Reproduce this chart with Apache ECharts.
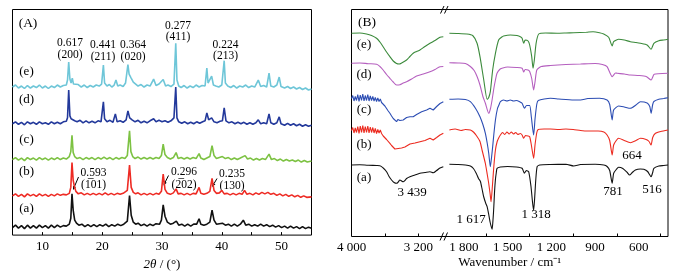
<!DOCTYPE html>
<html>
<head>
<meta charset="utf-8">
<script src="https://cdn.jsdelivr.net/npm/echarts@6/dist/echarts.min.js"></script>
<style>
  html, body { margin: 0; padding: 0; background: #fff; }
  #chart { width: 687px; height: 276px; }
</style>
</head>
<body>
<div id="chart"></div>
<script>
// (A) XRD patterns: [2theta, intensity as stacked in the figure]
const xrdE = [[5,149],[5.5,151],[6,148],[6.5,150],[7,147.5],[7.5,150.5],[8,148],[8.5,150],[9,148.5],[9.5,151],[10,148],[10.5,150],[11,147.5],[11.5,150],[12,148.5],[12.5,151],[13,149],[13.5,150.5],[14,151],[14.2,156],[14.4,174],[14.6,157],[14.8,153],[15,158],[15.2,152],[15.5,150],[16,151.5],[16.5,149],[17,151],[17.5,148.5],[18,150.5],[18.5,149],[19,151],[19.5,150],[19.9,152],[20.2,171],[20.4,153],[20.8,150],[21.2,151.5],[21.6,149],[22,151],[22.3,156],[22.6,150],[23,151],[23.5,149.5],[23.9,153],[24.3,171.5],[24.5,162],[24.8,158.5],[25.2,154],[25.6,152],[26,150],[26.5,151.5],[27,149],[27.5,151],[28,150],[28.6,157],[29,150.5],[29.5,152],[30.2,156.5],[30.6,150],[31,151],[31.5,149.5],[32,152],[32.3,193],[32.5,156],[32.8,150],[33.2,148.5],[33.7,150.5],[34.2,148],[34.7,150],[35.2,148.5],[35.7,151],[36.2,149],[36.7,150.5],[37.2,150],[37.5,168],[37.7,153],[38,152],[38.3,160],[38.6,151],[39,150],[39.5,149],[40,151],[40.4,175.5],[40.6,153],[41,150],[41.5,148.5],[42,150.5],[42.5,148],[43,150],[43.5,149],[44,151],[44.5,148.5],[45,150],[45.5,149],[46.1,156],[46.5,149.5],[47,150.5],[47.5,149],[47.9,163],[48.2,150],[48.7,149],[49.2,151],[49.6,159],[49.9,149.5],[50.5,148],[51,149.5],[51.5,147.5],[52,149],[52.5,147],[53,148.5],[53.5,146.5],[54,148],[54.5,146],[55,147]]
const xrdD = [[5,112],[5.5,114],[6,111.5],[6.5,113.5],[7,111],[7.5,114],[8,112],[8.5,113.5],[9,111.5],[9.5,114],[10,112],[10.5,113],[11,111.5],[11.5,114],[12,112],[12.5,113.5],[13,112],[13.5,114],[14,114.5],[14.2,118],[14.4,146],[14.6,120],[14.8,117],[15.1,119],[15.4,115],[15.8,114],[16.3,115.5],[16.8,113],[17.3,115],[17.8,113],[18.3,114.5],[18.8,113],[19.3,115],[19.8,114],[20,116],[20.2,134],[20.4,117],[20.8,114],[21.3,115.5],[21.8,113.5],[22.2,122],[22.5,114],[23,115],[23.5,113.5],[24,116],[24.3,125],[24.6,118],[25,116],[25.5,114],[26,115.5],[26.5,113],[27,114.5],[27.5,113],[28,115],[28.6,117],[29,114],[29.5,115.5],[30,114],[30.5,115],[31,113.5],[31.5,115],[32,118],[32.3,149],[32.5,118],[32.8,114],[33.3,112.5],[33.8,114],[34.3,112],[34.8,113.5],[35.3,112],[35.8,114],[36.3,112.5],[36.8,114],[37.2,115],[37.5,123],[37.8,116],[38.3,118],[38.7,114],[39.2,113],[39.7,114.5],[40.1,115],[40.4,128],[40.7,115],[41.2,113],[41.7,114],[42.2,112],[42.7,113.5],[43.2,112],[43.7,113.5],[44.2,111.5],[44.7,113],[45.2,111.5],[45.7,113],[46.1,116],[46.5,112],[47,113],[47.5,112],[47.9,122],[48.2,113],[48.7,111.5],[49.2,113],[49.6,119],[49.9,112],[50.5,110.5],[51,112.5],[51.5,110.5],[52,112],[52.5,110],[53,111.5],[53.5,109.5],[54,111],[54.5,109.5],[55,110.5]]
const xrdC = [[5,76],[5.5,78],[6,75.5],[6.5,77.5],[7,75],[7.5,78],[8,76],[8.5,77.5],[9,75.5],[9.5,78],[10,76],[10.5,77.5],[11,75.5],[11.5,77.5],[12,76],[12.5,78],[13,76],[13.5,77.5],[14,76.5],[14.5,79],[14.75,84],[14.95,100.5],[15.15,83],[15.4,79],[15.8,77],[16.3,78],[16.8,76],[17.3,78],[17.8,76.5],[18.3,78],[18.8,76],[19.3,78],[19.8,76.5],[20.3,78.5],[20.8,76.5],[21.3,78],[21.8,76],[22.3,78],[22.8,76.5],[23.3,78],[23.8,77],[24.2,80],[24.57,105],[24.8,84],[25.1,79],[25.5,77],[26,78.5],[26.5,76.5],[27,78],[27.5,76.5],[28,78],[28.5,76.5],[29,78],[29.5,77],[29.9,80],[30.2,91.5],[30.5,81],[30.9,78],[31.4,76.5],[31.9,78],[32.36,83],[32.7,77],[33.2,78],[33.7,76.5],[34.2,78],[34.7,76.5],[35.2,78],[35.7,77],[36.2,82],[36.5,77.5],[37,76],[37.5,77.5],[38,79],[38.37,90],[38.7,80],[39.1,77],[39.6,78],[40.1,79],[40.6,77],[41.1,78],[41.6,76],[42.1,77.5],[42.6,76],[43.1,77.5],[43.9,80],[44.3,76.5],[44.8,77.5],[45.3,75.5],[45.8,77],[46.3,75.5],[46.8,77],[47.3,76],[47.9,81.5],[48.3,76],[48.8,77],[49.3,75],[49.8,76.5],[50.3,74.5],[50.8,76],[51.3,74.5],[51.8,75.5],[52.3,74],[52.8,75.5],[53.3,73.5],[53.8,75],[54.3,73.5],[55,74.5]]
const xrdB = [[5,39.5],[5.5,41.5],[6,39],[6.5,41],[7,38.5],[7.5,41.5],[8,39.5],[8.5,41],[9,39],[9.5,41.5],[10,39.5],[10.5,41],[11,39],[11.5,41],[12,39.5],[12.5,41.5],[13,40],[13.5,41],[14,40.5],[14.5,42],[14.75,48],[14.95,73],[15.15,55],[15.35,49],[15.6,44],[16,41.5],[16.5,42.5],[17,40.5],[17.5,42],[18,40.5],[18.5,42],[19,40.5],[19.5,42],[20,40.5],[20.5,42.5],[21,40.5],[21.5,42],[22,40.5],[22.5,42],[23,41],[23.5,42],[24.2,45],[24.57,70.5],[24.85,48],[25.2,43],[25.6,41.5],[26,42.5],[26.5,40.5],[27,42],[27.5,40.5],[28,42],[28.5,40.5],[29,42],[29.5,41],[29.9,44],[30.2,61.5],[30.5,46],[30.9,42],[31.4,41],[31.9,42.5],[32.36,46.5],[32.7,41.5],[33.2,42],[33.7,40.5],[34.2,42],[34.7,40.5],[35.2,42],[35.7,41.5],[36.2,48],[36.5,42],[37,41],[37.5,42],[38,44],[38.37,57],[38.7,45],[39.1,42],[39.6,42.5],[40,45],[40.4,41.5],[40.9,42],[41.4,40.5],[41.9,42],[42.4,40.5],[42.9,42],[43.4,41],[43.8,45],[44.2,41],[44.7,42],[45.2,40.5],[45.7,42.5],[46.2,41],[46.7,43],[47.2,41.5],[47.7,43],[48.2,41],[48.7,42],[49.2,40],[49.7,41.5],[50.2,39.5],[50.7,41],[51.2,39],[51.7,40.5],[52.2,38.5],[52.7,40],[53.2,38],[53.7,39.5],[54.2,38],[55,38.5]]
const xrdA = [[5,7.5],[5.5,10],[6,7],[6.5,9.5],[7,6.5],[7.5,10],[8,7],[8.5,9.5],[9,7],[9.5,10],[10,7.5],[10.5,9.5],[11,7],[11.5,10],[12,7.5],[12.5,10],[13,8],[13.5,9.5],[14,9],[14.5,11],[14.75,17],[14.95,41.5],[15.15,25],[15.4,15],[15.7,12],[16.1,10],[16.6,11],[17.1,8.5],[17.6,10.5],[18.1,8.5],[18.6,10.5],[19.1,8.5],[19.6,10.5],[20.1,9],[20.6,11],[21.1,8.5],[21.6,10.5],[22.1,9],[22.6,11],[23.1,9.5],[23.6,11],[24.2,14],[24.57,39.8],[24.85,20],[25.2,13],[25.6,11],[26,12],[26.5,9.5],[27,11],[27.5,9],[28,11],[28.5,9.5],[29,11.5],[29.6,11],[29.9,15],[30.2,30.5],[30.5,19],[30.9,13],[31.4,11],[31.9,12],[32.4,14],[32.8,10],[33.3,11],[33.8,9],[34.3,11],[34.8,9],[35.3,11],[35.8,11],[36.2,16.5],[36.5,11],[37,10],[37.5,11],[38,13],[38.37,25],[38.7,15],[39.1,11],[39.6,11.5],[40.1,12],[40.6,10],[41.1,11],[41.6,9],[42.1,11],[42.6,9],[43.1,11],[43.6,15],[44,10],[44.5,11],[45,9],[45.5,10.5],[46,9],[46.5,11],[47,9],[47.5,10.5],[48,8.5],[48.5,10],[49,8],[49.5,9.5],[50,7.5],[50.5,9],[51,7],[51.5,9],[52,7],[52.5,8.5],[53,6.5],[53.5,8.5],[54,6.5],[54.5,8],[55,7]]

// (B) IR spectra: [wavenumber, transmittance as stacked], high range and low range
const irE_hi = [[4000,203.2],[3900,203.5],[3820,202.5],[3760,201],[3700,198.2],[3660,194.5],[3621,189.8],[3580,184.5],[3540,179.8],[3500,175.5],[3460,173],[3430,172.5],[3400,173.5],[3340,176.5],[3300,180],[3261,183.2],[3220,185],[3180,186.5],[3120,190],[3060,193.2],[3000,196],[2940,199.2],[2900,199.8]]
const irE_lo = [[1900,203.2],[1840,203],[1780,202.5],[1740,201],[1710,193.2],[1690,179.8],[1664,156.5],[1641,137.2],[1630,139],[1619,144.8],[1603,166.5],[1584,183.2],[1562,196.5],[1540,199.5],[1528,200.5],[1482,201.5],[1436,201],[1410,199.5],[1401,198.2],[1390,193.2],[1380,196.5],[1360,195.5],[1349,191.5],[1335,179.8],[1326,168.2],[1317,176.5],[1305,193.2],[1287,202.5],[1240,203.5],[1161,203.2],[1100,203.5],[1047,203.8],[960,204.3],[914,204.8],[870,203.8],[841,202.5],[807,199.2],[783,190.5],[773,194.8],[739,197.2],[700,196.5],[658,194.8],[620,194],[589,193.2],[543,191.5],[516,187.2],[497,193.2],[463,195.8],[430,196.5],[400,197.2]]
const irD_hi = [[4000,173.2],[3900,173.5],[3800,172.8],[3700,172.2],[3660,170],[3621,166.5],[3580,162],[3540,158.2],[3500,154.5],[3460,151.5],[3420,151.8],[3380,153.5],[3340,154.8],[3280,157.5],[3220,160.5],[3140,162.5],[3060,164.8],[3000,167],[2940,169.8],[2900,170]]
const irD_lo = [[1900,173.8],[1840,173.5],[1790,173],[1756,170],[1730,166],[1710,160],[1690,151.5],[1670,140],[1653,133.2],[1630,123.2],[1618,128],[1607,136.5],[1595,148],[1584,156.5],[1573,163.2],[1555,167],[1539,168.2],[1500,169.5],[1440,169],[1401,168.2],[1390,164.5],[1380,167],[1360,166.5],[1349,165],[1335,158],[1322,146.5],[1312,155],[1300,166.5],[1270,170],[1207,171],[1100,172],[1000,172.5],[900,173],[850,172],[818,169.8],[783,159.8],[760,163.5],[749,163.2],[700,162.5],[658,161.5],[600,161],[550,160],[516,156.5],[497,162],[486,162.5],[440,163],[400,163.2]]
const irC_hi = [[4000,138],[3985,141],[3970,135.5],[3955,140],[3940,136],[3925,142],[3910,135],[3895,141.5],[3880,136],[3865,142.5],[3850,135.5],[3835,141],[3820,136],[3805,142],[3790,135.5],[3775,140.5],[3760,136],[3745,140],[3730,135.5],[3715,139],[3700,135],[3685,138.5],[3670,135],[3655,137.5],[3640,134],[3621,133.2],[3600,130.5],[3580,128],[3560,125.5],[3540,123.2],[3520,120.5],[3500,118],[3480,116],[3460,114.8],[3445,117],[3440,118.2],[3420,116],[3400,117],[3381,116.5],[3360,118],[3340,119],[3300,119.8],[3261,119.8],[3220,122],[3160,124.8],[3100,126.5],[3060,128.2],[3021,126.5],[2980,130],[2940,133],[2900,134.8]]
const irC_lo = [[1900,137.2],[1840,137.5],[1790,137],[1756,134.8],[1720,128],[1690,119.8],[1670,112],[1653,103.2],[1640,93],[1630,83.2],[1619,69.8],[1610,80],[1603,89.8],[1595,102],[1584,116.5],[1570,128],[1560,131.5],[1550,134.8],[1528,136.5],[1505,135.5],[1482,136.5],[1460,135.5],[1440,136],[1415,134.5],[1401,133.2],[1385,128.2],[1370,131],[1349,131],[1338,120],[1322,101.5],[1312,118],[1300,132.5],[1290,136],[1207,138.2],[1150,137.5],[1047,136.5],[1000,136.5],[950,138],[870,138.2],[818,136.5],[800,132],[783,116.5],[773,126.5],[739,130.5],[700,129.5],[658,128.2],[620,131.5],[589,134.8],[543,133.5],[525,130],[516,123.2],[505,132],[497,135],[463,137.2],[430,138],[400,138.8]]
const irB_hi = [[4000,106],[3985,109],[3970,103.5],[3955,108.5],[3940,104],[3925,110],[3910,103],[3895,110.5],[3880,104],[3865,111],[3850,103.5],[3835,110],[3820,104],[3805,110.5],[3790,103.5],[3775,109.5],[3760,104],[3745,109],[3730,103.5],[3715,108],[3700,103],[3685,107],[3670,103.5],[3655,106.5],[3640,103],[3620,100.5],[3600,99],[3580,97],[3560,95],[3540,93.2],[3520,91],[3500,89],[3480,87.5],[3460,86.5],[3440,88],[3420,89.8],[3400,88.5],[3381,88.2],[3360,89.5],[3340,90.5],[3300,92.5],[3240,93.5],[3180,94.8],[3120,96],[3060,98.2],[3021,96.5],[2980,99],[2940,101.5],[2900,103.2]]
const irB_lo = [[1900,106.5],[1860,107.5],[1820,106],[1790,107],[1756,106.5],[1735,104.5],[1715,101],[1690,95],[1675,86],[1653,73],[1640,62],[1630,53],[1620,42],[1614,34.8],[1605,50],[1595,70],[1584,86.5],[1572,95],[1560,99],[1550,101.5],[1535,104],[1520,102],[1505,104.5],[1490,102.5],[1475,104.5],[1460,102.5],[1445,104],[1430,102],[1413,103],[1401,101.5],[1390,98.2],[1378,101],[1360,100.5],[1349,99.8],[1338,92],[1322,78.2],[1312,92],[1300,104],[1290,107],[1250,107.5],[1207,107.5],[1150,107],[1100,107.5],[1050,107],[1000,106],[950,105.5],[880,105.5],[840,104.5],[818,101.5],[800,96],[783,81.5],[773,91.5],[755,96],[739,98.2],[700,96],[658,93.8],[620,96],[589,98.2],[550,97],[530,95],[516,91.5],[505,99],[486,103.2],[450,105],[400,106.5]]
const irA_hi = [[4000,71.5],[3900,71.8],[3800,71.2],[3700,71],[3660,70.8],[3620,68.5],[3580,64.8],[3550,60],[3520,56.5],[3490,54],[3460,53.2],[3440,54.5],[3420,56.5],[3400,55.5],[3381,54.8],[3360,56],[3340,58],[3300,59.8],[3240,61.5],[3180,63.2],[3120,64],[3060,64.8],[3021,63.8],[2980,66],[2940,68.5],[2900,69.8]]
const irA_lo = [[1900,72.2],[1840,72],[1790,71.5],[1756,70.5],[1735,68],[1715,63],[1700,58],[1687,55],[1675,47],[1665,40],[1650,33],[1641,29.8],[1630,22],[1620,14],[1607,7.2],[1600,18],[1595,30],[1590,45],[1584,57],[1578,64],[1573,68.2],[1550,69.5],[1500,70],[1440,69.5],[1401,68.2],[1385,63.2],[1372,66],[1356,64.8],[1340,50],[1330,35],[1322,26],[1315,38],[1308,55],[1298,69.8],[1280,71.5],[1207,72],[1100,72.2],[1047,70.5],[1000,72],[900,72.2],[840,71.5],[818,70],[800,66],[783,53.2],[773,63.2],[755,67],[739,69.2],[710,68],[680,64],[664,61.5],[645,64],[624,66.5],[590,67.5],[566,67.2],[540,65],[516,59.8],[505,64],[497,68.2],[463,70.5],[430,71],[400,71.5]]

// tick marks and tick labels
const xrdTicks = [10, 15, 20, 25, 30, 35, 40, 45, 50]
const xrdLabels = [10, 20, 30, 40, 50]
const irHiTicks = [3600, 3200]
const irHiLabels = [4000, 3200]
const irLoTicks = [1650, 1350, 1050, 750, 450]
const irLoLabels = [1800, 1500, 1200, 900, 600]

const serif = '"Liberation Serif", "Times New Roman", serif'
const fmtWn = v => v >= 1000 ? String(v).replace(/(\d)(\d{3})$/, '$1 $2') : String(v)

function txt(s, x, y, size) {
  return { type: 'text', x: x, y: y, style: { text: s, fill: '#000', font: size + 'px ' + serif, textAlign: 'center', textVerticalAlign: 'middle' } }
}
function seg(x1, y1, x2, y2) {
  return { type: 'line', shape: { x1, y1, x2, y2 }, style: { stroke: '#000', lineWidth: 1 } }
}
function arrow(x1, y1, x2, y2) {
  const a = Math.atan2(y2 - y1, x2 - x1), L = 4, W = 1.6
  const bx = x2 - L * Math.cos(a), by = y2 - L * Math.sin(a)
  const px = -Math.sin(a) * W, py = Math.cos(a) * W
  return [
    seg(x1, y1, bx, by),
    { type: 'polygon', shape: { points: [[x2, y2], [bx + px, by + py], [bx - px, by - py]] }, style: { fill: '#000' } }
  ]
}

function line(data, color, axis, smooth, width) {
  return {
    type: 'line', data: data, xAxisIndex: axis, yAxisIndex: axis,
    showSymbol: false, smooth: smooth, silent: true,
    lineStyle: { color: color, width: width }
  }
}

function tickAxis(grid, min, max, inverse, ticks, labels, fmt) {
  return {
    gridIndex: grid, type: 'value', min: min, max: max, inverse: inverse,
    axisLine: { show: false }, splitLine: { show: false },
    axisTick: { inside: true, length: 3, customValues: ticks, lineStyle: { color: '#000' } },
    axisLabel: { customValues: labels, color: '#000', fontFamily: serif, fontSize: 13, margin: 5, formatter: fmt }
  }
}

const annos = [
  txt('(A)', 28, 23, 13.5),
  txt('(e)', 26.5, 72, 13), txt('(d)', 26.5, 100, 13), txt('(c)', 26.5, 139.5, 13),
  txt('(b)', 26.5, 171.5, 13), txt('(a)', 26.5, 209, 13),
  txt('0.617', 70, 42.5, 11.5), txt('(200)', 70, 54.5, 11.5),
  txt('0.441', 103, 45, 11.5), txt('(211)', 103, 56.5, 11.5),
  txt('0.364', 133, 45, 11.5), txt('(020)', 133, 56.5, 11.5),
  txt('0.277', 178, 25.5, 11.5), txt('(411)', 178, 36.5, 11.5),
  txt('0.224', 225.5, 44.5, 11.5), txt('(213)', 225.5, 55.5, 11.5),
  txt('0.593', 93.5, 172.5, 11.5), txt('(1\u030501)', 93.5, 185, 11.5),
  txt('0.296', 184, 172, 11.5), txt('(2\u030502)', 184, 184.5, 11.5),
  txt('0.235', 232, 174, 11.5), txt('(130)', 232, 185.5, 11.5),
  ...arrow(78.5, 177, 73, 190),
  ...arrow(168.5, 175.5, 163.5, 185.5),
  ...arrow(217, 178.5, 212, 187),
  txt('(B)', 367, 22.5, 13.5),
  txt('(e)', 364, 45, 13), txt('(d)', 364, 75, 13), txt('(c)', 364, 110, 13),
  txt('(b)', 364, 145, 13), txt('(a)', 364, 178, 13),
  txt('3 439', 412, 193, 13), txt('1 617', 471, 220, 13), txt('1 318', 536, 215, 13),
  txt('781', 613, 192, 13), txt('516', 652, 189.5, 13), txt('664', 632, 156, 13),
  seg(440.5, 13.5, 444, 6), seg(444.5, 13.5, 448, 6),
  seg(440, 240.5, 443.5, 232.5), seg(444, 240.5, 447.5, 232.5)
]

const option = {
  animation: false,
  backgroundColor: '#fff',
  grid: [
    { left: 12.5, top: 9.5, width: 299, height: 227, show: true, borderColor: '#000', borderWidth: 1 },
    { left: 351.5, top: 9.5, width: 93.5, height: 227 },
    { left: 445, top: 9.5, width: 223, height: 227 },
    { left: 351.5, top: 9.5, width: 316.5, height: 227, show: true, borderColor: '#000', borderWidth: 1 }
  ],
  xAxis: [
    Object.assign(tickAxis(0, 5, 55, false, xrdTicks, xrdLabels), {
      name: '{i|2θ} / (°)', nameLocation: 'middle', nameGap: 20,
      nameTextStyle: { color: '#000', fontFamily: serif, fontSize: 13, rich: { i: { fontStyle: 'italic', fontFamily: serif, fontSize: 13 } } }
    }),
    tickAxis(1, 2880, 4000, true, irHiTicks, irHiLabels, fmtWn),
    tickAxis(2, 400, 1930, true, irLoTicks, irLoLabels, fmtWn),
    {
      gridIndex: 3, type: 'value', min: 0, max: 1,
      axisLine: { show: false }, axisTick: { show: false }, axisLabel: { show: false }, splitLine: { show: false },
      name: 'Wavenumber / cm\u207B\u00B9', nameLocation: 'middle', nameGap: 20,
      nameTextStyle: { color: '#000', fontFamily: serif, fontSize: 13 }
    }
  ],
  yAxis: [0, 1, 2, 3].map(i => ({ gridIndex: i, type: 'value', min: 0, max: 227, show: false })),
  graphic: { elements: annos },
  series: [
    line(xrdA, '#111111', 0, false, 1.6),
    line(xrdB, '#ee2b24', 0, false, 1.6),
    line(xrdC, '#7dc243', 0, false, 1.6),
    line(xrdD, '#23399b', 0, false, 1.6),
    line(xrdE, '#6ec6d8', 0, false, 1.6),
    line(irA_hi, '#111111', 1, 0.3, 1.1), line(irA_lo, '#111111', 2, 0.2, 1.1),
    line(irB_hi, '#ec2a1f', 1, false, 1.1), line(irB_lo, '#ec2a1f', 2, 0.2, 1.1),
    line(irC_hi, '#2c4db3', 1, false, 1.1), line(irC_lo, '#2c4db3', 2, 0.2, 1.1),
    line(irD_hi, '#b55fbf', 1, 0.3, 1.1), line(irD_lo, '#b55fbf', 2, 0.2, 1.1),
    line(irE_hi, '#3b8a3b', 1, 0.3, 1.1), line(irE_lo, '#3b8a3b', 2, 0.2, 1.1)
  ]
}

const myChart = echarts.init(document.getElementById('chart'))
myChart.setOption(option)
</script>
</body>
</html>
